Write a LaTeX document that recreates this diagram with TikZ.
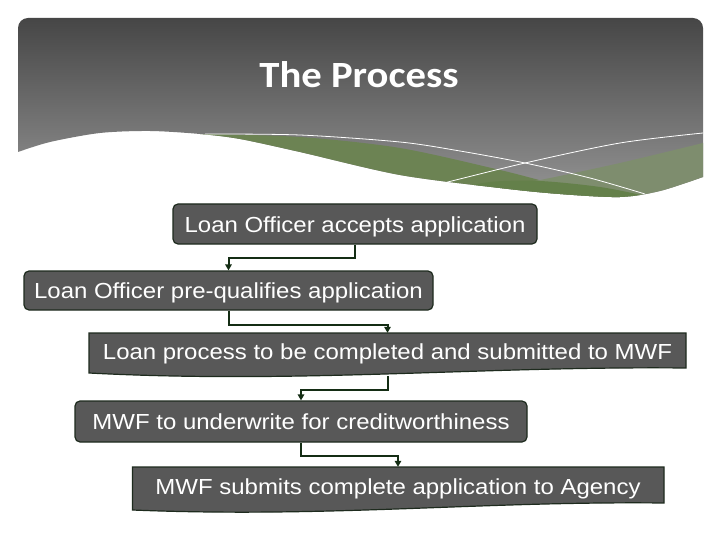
\documentclass[tikz,border=0pt]{standalone}
\usepackage{fontspec}
\newfontfamily\boxfont[FakeStretch=1.1]{Liberation Sans}
\newfontfamily\titlefont[FakeStretch=1.1]{Carlito}
\usetikzlibrary{arrows.meta}

\definecolor{boxgray}{HTML}{585858}
\definecolor{boxline}{HTML}{1E2B1E}
\definecolor{flowgreen}{HTML}{142D14}
\definecolor{headtop}{HTML}{464646}
\definecolor{headbot}{HTML}{959595}
\definecolor{leafgreen}{HTML}{6C8353}
\definecolor{sagegreen}{HTML}{7E8D6E}
\definecolor{mossgreen}{HTML}{64804A}

\begin{document}
\begin{tikzpicture}[x=1pt, y=-1pt,
    procbox/.style={draw=boxline, line width=1.2pt, fill=boxgray, rounded corners=5pt,
        text=white, font=\boxfont\fontsize{21.8}{26}\selectfont,
        text height=16.6pt, text depth=0pt, inner sep=0pt},
    doctext/.style={text=white, font=\boxfont\fontsize{21.8}{26}\selectfont,
        text height=16.6pt, text depth=0pt, inner sep=0pt},
    docbox/.style={draw=boxline, line width=1.2pt, fill=boxgray},
    flow/.style={draw=flowgreen, line width=2pt, -{Triangle[length=6pt,width=6.5pt]}},
    wave/.style={white, line width=0.8pt}]

    % page
    \fill[white] (0,0) rectangle (720,540);
    \useasboundingbox (0,0) rectangle (720,540);

    % header band with its wavy bottom
    \begin{scope}
        \clip (18,152) [rounded corners=10pt] -- (18,18) -- (703,18) [sharp corners] -- (703,177)
            -- plot[smooth] coordinates {(703,177) (660,191) (620,197) (560,194) (500,188) (400,175)
                (300,152) (240,139) (200,134) (150,131) (100,133) (50,142) (18,152)} -- cycle;
        \shade[top color=headtop, bottom color=headbot] (0,18) rectangle (720,200);
        \fill[leafgreen] plot[smooth] coordinates {(200,134) (300,137) (400,148) (500,170) (560,185)
            (640,200) (703,212)} -- (703,240) -- (200,240) -- cycle;
        \fill[sagegreen] plot[smooth] coordinates {(420,205) (480,190) (540,180) (620,163) (703,143)}
            -- (703,240) -- (420,240) -- cycle;
        \fill[mossgreen] plot[smooth] coordinates {(440,192) (490,182) (540,181) (600,187) (650,197)
            (703,210)} -- (703,240) -- (440,240) -- cycle;
        \draw[wave] plot[smooth] coordinates {(205,134) (300,135) (400,142) (460,151) (525,163)
            (590,178) (645,194)};
        \draw[wave] plot[smooth] coordinates {(440,184) (525,163) (620,143) (703,133)};
    \end{scope}

    % title
    \node[text=white, font=\titlefont\bfseries\fontsize{37}{44}\selectfont, inner sep=0pt]
        (title) at (359,75) {The Process};

    % steps
    \node[procbox, minimum width=364pt, minimum height=40pt] (s1) at (355,224)
        {Loan Officer accepts application};
    \node[procbox, minimum width=409pt, minimum height=39pt] (s2) at (228.5,290.5)
        {Loan Officer pre-qualifies application};
    \draw[docbox] (89,333) -- (686,333) -- (686,368) .. controls (480,366) and (300,384) .. (89,373) -- cycle;
    \node[doctext, minimum width=597pt, minimum height=36pt] (s3) at (387.5,351)
        {Loan process to be completed and submitted to MWF};
    \node[procbox, minimum width=452pt, minimum height=41pt] (s4) at (301,421.5)
        {MWF to underwrite for creditworthiness};
    \draw[docbox] (132.5,467) -- (664,467) -- (664,503) .. controls (480,501) and (330,518) .. (132.5,510) -- cycle;
    \node[doctext, minimum width=531pt, minimum height=38pt] (s5) at (398,486)
        {MWF submits complete application to Agency};

    % connectors
    \coordinate (s3out) at ([yshift=-7pt]s3.south);
    \foreach \from/\to/\drop in {s1.south/s2/13, s2.south/s3/14, s3out/s4/14, s4.south/s5/13} {
        \draw[flow] (\from) -- ++(0,\drop) -| (\to.north);
    }
\end{tikzpicture}
\end{document}
